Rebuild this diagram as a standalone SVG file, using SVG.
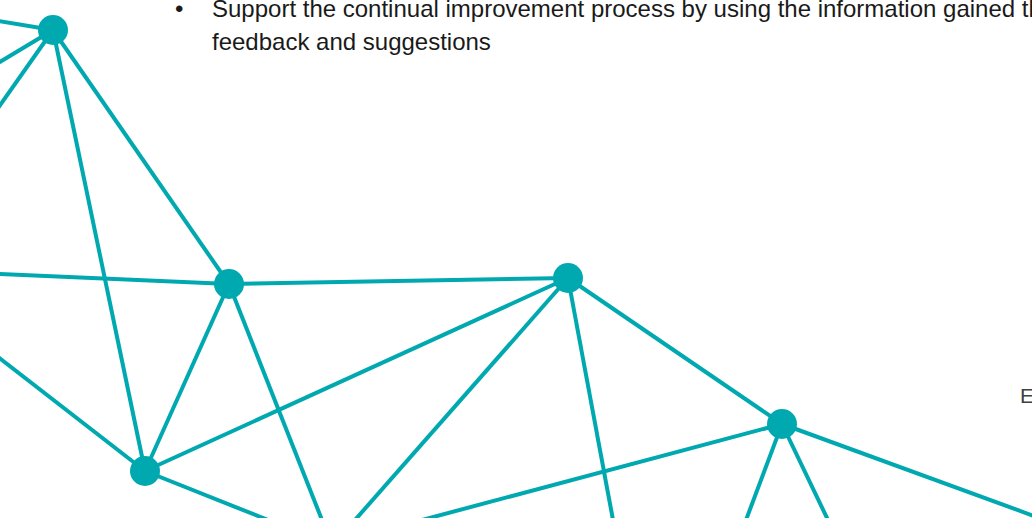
<svg xmlns="http://www.w3.org/2000/svg" width="1032" height="518" viewBox="0 0 1032 518">
<style>
.e{stroke:#00a8b0;stroke-width:4;fill:none;stroke-linecap:butt}
.n{fill:#00a8b0}
.t{font-family:"Liberation Sans",Arial,sans-serif;font-size:24px;fill:#1a1a1a}
.s{font-family:"Liberation Sans",Arial,sans-serif;font-size:21px;fill:#404040}
</style>
<rect width="1032" height="518" fill="#ffffff"/>
<g id="connectors">
<line class="e" x1="-2" y1="21" x2="53" y2="30"/>
<line class="e" x1="-2" y1="63" x2="53" y2="30"/>
<line class="e" x1="-2" y1="108" x2="53" y2="30"/>
<line class="e" x1="53" y1="30" x2="145" y2="471"/>
<line class="e" x1="53" y1="30" x2="229" y2="284"/>
<line class="e" x1="-2" y1="274" x2="229" y2="284"/>
<line class="e" x1="229" y1="284" x2="568" y2="278"/>
<line class="e" x1="229" y1="284" x2="145" y2="471"/>
<line class="e" x1="229" y1="284" x2="322" y2="520"/>
<line class="e" x1="-2" y1="357" x2="145" y2="471"/>
<line class="e" x1="145" y1="471" x2="568" y2="278"/>
<line class="e" x1="145" y1="471" x2="268" y2="520"/>
<line class="e" x1="568" y1="278" x2="355" y2="520"/>
<line class="e" x1="568" y1="278" x2="613" y2="520"/>
<line class="e" x1="568" y1="278" x2="782" y2="424"/>
<line class="e" x1="782" y1="424" x2="422" y2="520"/>
<line class="e" x1="782" y1="424" x2="746" y2="520"/>
<line class="e" x1="782" y1="424" x2="828" y2="520"/>
<line class="e" x1="782" y1="424" x2="1034" y2="516"/>
</g>
<g id="node-a"><circle class="n" cx="53" cy="30" r="15"/></g>
<g id="node-b"><circle class="n" cx="229" cy="284" r="15"/></g>
<g id="node-c"><circle class="n" cx="568" cy="278" r="15"/></g>
<g id="node-d"><circle class="n" cx="145" cy="471" r="15"/></g>
<g id="node-e"><circle class="n" cx="782" cy="424" r="15"/></g>
<g id="text">
<text class="t" x="175" y="17">•</text>
<text class="t" x="212" y="17">Support the continual improvement process by using the information gained th</text>
<text class="t" x="212" y="50">feedback and suggestions</text>
<text class="s" x="1020" y="403">E</text>
</g>
</svg>
